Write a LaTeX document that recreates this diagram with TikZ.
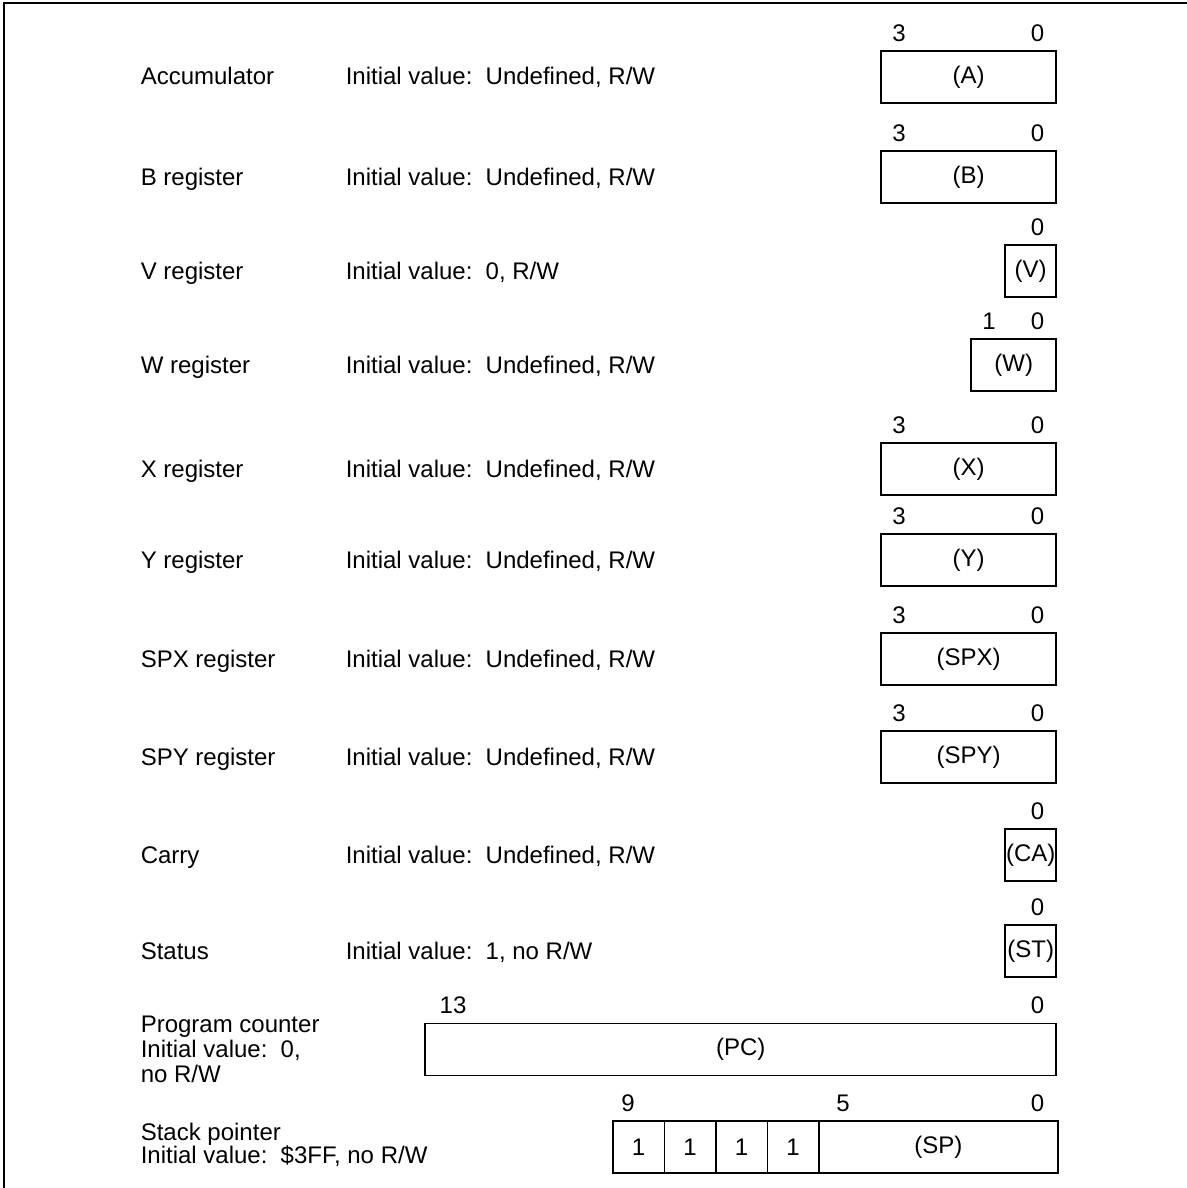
\documentclass[tikz,border=0pt]{standalone}
\usepackage{fontspec}
\setmainfont{Liberation Sans}
\usetikzlibrary{positioning}

\begin{document}
\begin{tikzpicture}[x=0.5pt,y=-0.5pt,line width=0.8pt,
  font=\fontsize{12}{12.5}\selectfont,
  reg/.style={draw,inner sep=0pt,minimum height=26pt},
  bit/.style={inner sep=0pt,above=4pt},
  txt/.style={inner sep=0pt,anchor=base west}]
  \useasboundingbox (0,0) rectangle (1187,1188);
  % frame
  \draw (4,1188)--(4,3)--(1187,3);
  % registers, one row each
  \foreach \nm/\name/\init/\yc/\xl in {A/Accumulator/{Undefined, R/W}/77/882,
      B/B register/{Undefined, R/W}/177/882, V/V register/{0, R/W}/271/1006,
      W/W register/{Undefined, R/W}/365/972, X/X register/{Undefined, R/W}/469/882,
      Y/Y register/{Undefined, R/W}/560/882, SPX/SPX register/{Undefined, R/W}/659/882,
      SPY/SPY register/{Undefined, R/W}/757/882, CA/Carry/{Undefined, R/W}/855/1006,
      ST/Status/{1, no R/W}/951/1006}{
    \node[txt] (\nm-name) at (140,\yc+8) {\name};
    \node[txt] (\nm-init) at (345,\yc+8) {Initial value:\hspace{0.55em}\init};
    \node[reg,anchor=east,minimum width={(1057-\xl)*0.5pt}] (\nm) at (1057,\yc) {(\nm)};
    \node[bit] (\nm-lo) at (1037.5,0 |- \nm.north) {0};
  }
  % program counter
  \node[txt] (pc-name) at (140,1032) {Program counter};
  \node[txt] (pc-init) at (140,1057) {Initial value:\hspace{0.55em}0,};
  \node[txt] (pc-rw) at (140,1082) {no R/W};
  \node[reg,anchor=east,minimum width={631*0.5pt}] (PC) at (1057,1049.5) {(PC)};
  \node[bit] (PC-lo) at (1037.5,0 |- PC.north) {0};
  % stack pointer
  \node[txt] (sp-name) at (140,1140) {Stack pointer};
  \node[txt] (sp-init) at (140,1163) {Initial value:\hspace{0.55em}\$3FF, no R/W};
  \foreach \i in {0,...,3}
    \node[reg,anchor=west,minimum width=25.75pt] (sp\i) at (612+51.5*\i,1147) {1};
  \node[reg,anchor=west,minimum width=119.5pt] (SP) at (818,1147) {(SP)};
  \node[bit] (SP-lo) at (1037.5,0 |- SP.north) {0};
  % high bit numbers
  \foreach \nm/\hx/\hb in {A/899/3,B/899/3,W/989/1,X/899/3,Y/899/3,SPX/899/3,
      SPY/899/3,PC/453/13,sp0/628/9,SP/843/5}
    \node[bit] (\nm-hi) at (\hx,0 |- \nm.north) {\hb};
\end{tikzpicture}
\end{document}
